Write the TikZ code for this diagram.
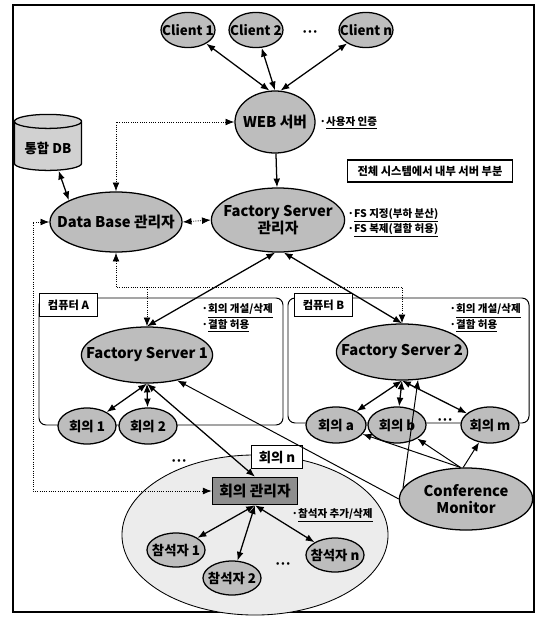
\documentclass[tikz,border=0pt]{standalone}
\usepackage{fontspec}
\setmainfont{Noto Sans CJK KR}
\usepackage{tikz}
\usetikzlibrary{arrows.meta,shapes.geometric}
\definecolor{shade}{HTML}{BDBDBD}
\definecolor{pale}{HTML}{ECECEC}
\definecolor{dark}{HTML}{8E8E8E}
\tikzset{
  elp/.style={draw, ellipse, line width=.9pt, fill=shade, inner sep=0pt},
  sm/.style={font=\fontsize{9.5}{11}\selectfont\bfseries, align=center},
  bg/.style={font=\fontsize{10.5}{12}\selectfont\bfseries, align=center},
  nt/.style={font=\fontsize{7.5}{9.5}\selectfont\bfseries, anchor=west, inner sep=1pt, align=left},
  dots/.style={font=\fontsize{6}{7}\selectfont\bfseries, inner sep=0pt},
  tag/.style={draw, fill=white, line width=.7pt, font=\fontsize{8}{9}\selectfont\bfseries, inner sep=0pt, minimum width=1.45cm, minimum height=.58cm},
  box/.style={draw, rounded corners=5pt, line width=.7pt},
  ar/.style={-{Latex[length=2.2mm,width=1.7mm]}, line width=.9pt},
  arr/.style={{Latex[length=2.2mm,width=1.7mm]}-{Latex[length=2.2mm,width=1.7mm]}, line width=.9pt},
  dar/.style={arr, line width=.6pt, densely dotted},
}
\begin{document}
\begin{tikzpicture}[x=0.025cm, y=-0.025cm]
  \useasboundingbox (0,0) rectangle (540,617);
  \draw[line width=.8pt] (13,5) rectangle (534,612);

  % conference n area
  \node[draw, ellipse, fill=pale, line width=.6pt, minimum width=6.65cm, minimum height=4cm] (conf) at (255,535) {};

  % computers
  \draw[box] (39,298) rectangle (283,425);
  \draw[box] (288,298) rectangle (529,423);
  \node[tag, anchor=north west] (tagA) at (39,293) {컴퓨터 A};
  \node[tag, anchor=north west] (tagB) at (294,293) {컴퓨터 B};

  % clients and web
  \node[elp, minimum width=1.35cm, minimum height=.88cm, label={[sm]center:Client 1}] (c1) at (188,30) {};
  \node[elp, minimum width=1.35cm, minimum height=.88cm, label={[sm]center:Client 2}] (c2) at (256,30) {};
  \node[elp, minimum width=1.35cm, minimum height=.88cm, label={[sm]center:Client n}] (cn) at (366,30) {};
  \node[dots] (cdots) at (310,33) {• • •};
  \node[elp, minimum width=2cm, minimum height=1.55cm, label={[bg]center:WEB 서버}] (web) at (275,122) {};
  \node[nt] (webnote) at (318,123) {·\underline{사용자 인증}};

  % managers
  \node[draw, cylinder, shape border rotate=90, aspect=.25, fill=shade!70, line width=.9pt, minimum width=1.68cm, minimum height=1.4cm, sm] (db) at (48,148) {통합 DB};
  \node[elp, minimum width=3.3cm, minimum height=1.5cm, label={[bg]center:Data Base 관리자}] (dbm) at (116,222) {};
  \node[elp, minimum width=3.33cm, minimum height=1.6cm, label={[bg]center:Factory Server\\관리자}] (fsm) at (278,220) {};
  \node[draw, fill=white, line width=.8pt, minimum width=4.13cm, minimum height=.55cm, font=\fontsize{8}{9}\selectfont\bfseries] (sys) at (430,171) {전체 시스템에서 내부 서버 부분};
  \node[nt] (fsnote) at (346,223) {·\underline{FS 지정(부하 분산)}\\·\underline{FS 복제(결함 허용)}};

  % factory servers
  \node[elp, minimum width=3.28cm, minimum height=1.4cm, label={[bg]center:Factory Server 1}] (fs1) at (147,355) {};
  \node[elp, minimum width=3.28cm, minimum height=1.4cm, label={[bg]center:Factory Server 2}] (fs2) at (402,352) {};
  \node[nt] (fs1note) at (200,318) {·\underline{회의 개설/삭제}\\·\underline{결함 허용}};
  \node[nt] (fs2note) at (448,318) {·\underline{회의 개설/삭제}\\·\underline{결함 허용}};

  % conferences
  \node[elp, minimum width=1.45cm, minimum height=.9cm, label={[sm]center:회의 1}] (m1) at (87,426) {};
  \node[elp, minimum width=1.45cm, minimum height=.9cm, label={[sm]center:회의 2}] (m2) at (148,426) {};
  \node[elp, minimum width=1.5cm, minimum height=.9cm, label={[sm]center:회의 a}] (ma) at (336,425) {};
  \node[elp, minimum width=1.45cm, minimum height=.9cm, label={[sm]center:회의 b}] (mb) at (397,425) {};
  \node[elp, minimum width=1.45cm, minimum height=.9cm, label={[sm]center:회의 m}] (mm) at (490,425) {};
  \node[dots] (bdots) at (445,421) {• • •};
  \node[dots] (adots) at (179,462) {• • •};

  % conference n
  \node[draw, fill=white, line width=.8pt, minimum width=1.28cm, minimum height=.58cm, inner sep=0pt, sm] (confn) at (277,457) {회의 n};
  \node[draw, fill=dark, line width=.9pt, minimum width=2.13cm, minimum height=.68cm, inner sep=0pt, bg] (mgr) at (255,491) {회의 관리자};
  \node[nt] (mgrnote) at (290,515) {·\underline{참석자 추가/삭제}};
  \node[elp, minimum width=1.45cm, minimum height=.85cm, label={[sm]center:참석자 1}] (p1) at (176,550) {};
  \node[elp, minimum width=1.45cm, minimum height=.85cm, label={[sm]center:참석자 2}] (p2) at (232,578) {};
  \node[elp, minimum width=1.45cm, minimum height=.85cm, label={[sm]center:참석자 n}] (pn) at (335,555) {};
  \node[dots] (pdots) at (283,565) {• • •};

  \node[elp, minimum width=3.33cm, minimum height=1.55cm, label={[bg]center:Conference\\Monitor}] (cm) at (466,499) {};

  % solid links
  \draw[arr] (c1) -- (web.100);
  \draw[arr] (c2) -- (web.north);
  \draw[arr] (cn) -- (web.80);
  \draw[ar] (web) -- (fsm);
  \draw[arr] (db.-65) -- (dbm.north west);
  \draw[arr] (fsm.265) -- (fs1.north);
  \draw[arr] (fsm.280) -- (fs2.north);
  \draw[arr] (fs1.south) -- (m1);
  \draw[arr] (fs1.south) -- (m2);
  \draw[arr] (fs1.south) -- (mgr.north);
  \draw[arr] (fs2.south) -- (ma);
  \draw[arr] (fs2.south) -- (mb);
  \draw[arr] (fs2.south) -- (mm);
  \draw[arr] (mgr.south) -- (p1);
  \draw[arr] (mgr.south) -- (p2);
  \draw[arr] (mgr.south) -- (pn);
  \draw[ar, line width=.7pt] (cm.west) -- (fs1.-40);
  \draw[ar, line width=.7pt] (cm.170) -- (fs2.-60);
  \draw[ar, line width=.7pt] (cm.100) -- (ma);
  \draw[ar, line width=.7pt] (cm.100) -- (mb);
  \draw[ar, line width=.7pt] (cm.95) -- (mm);

  % dotted links
  \coordinate (jn) at (147,287);
  \coordinate (lft) at (33,222);
  \draw[dar] (web.west) -| (dbm.north);
  \draw[dar] (dbm.east) -- (fsm.west);
  \draw[dar] (dbm.south) -- (dbm.south |- jn) -| (fs2.north);
  \draw[dar, -{Latex[length=2.2mm,width=1.7mm]}] (jn) -- (fs1.north);
  \draw[dar] (dbm.west) -- (lft) |- (mgr.west);
\end{tikzpicture}
\end{document}
